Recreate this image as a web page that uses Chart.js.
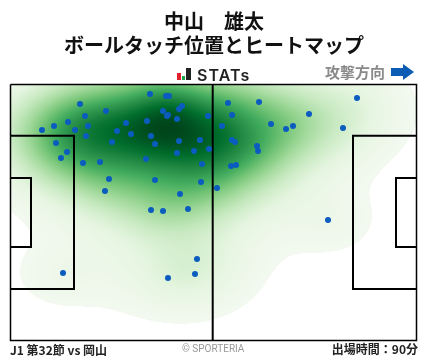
<!DOCTYPE html>
<html lang="ja">
<head>
<meta charset="utf-8">
<title>ボールタッチ位置とヒートマップ</title>
<script src="https://cdn.jsdelivr.net/npm/chart.js@4"></script>
<style>
html, body { margin: 0; padding: 0; background: #fff; }
#wrap { position: relative; width: 428px; height: 359px; overflow: hidden; font-family: "Noto Sans CJK JP", sans-serif; }
#wrap canvas { position: absolute; left: 0; top: 0; }
.txt { position: absolute; white-space: nowrap; line-height: 1; }
#title1, #title2 { left: 0; width: 428px; text-align: center; font-size: 20px; font-weight: 700; color: #111; }
#title1 { top: 11px; }
#title2 { top: 35px; }
#stats { left: 197px; top: 65px; font: 600 16px "Inter", sans-serif; color: #222; letter-spacing: 1.1px; }
#dir { left: 325px; top: 64px; font-size: 15px; font-weight: 700; color: #8a8a8a; }
#round { left: 10px; top: 344px; font-size: 12px; font-weight: 700; color: #222; }
#copy { left: 182px; top: 343px; font: 10px "Roboto", sans-serif; color: #999; }
#time { right: 10px; top: 343px; font-size: 12px; font-weight: 700; color: #222; }
.bar { position: absolute; }
</style>
</head>
<body>
<div id="wrap">
  <canvas id="heatChart" width="428" height="359"></canvas>
  <div class="txt" id="title1">中山　雄太</div>
  <div class="txt" id="title2">ボールタッチ位置とヒートマップ</div>
  <div class="bar" style="left:177px;top:73px;width:3.5px;height:6.5px;background:#e0202c"></div>
  <div class="bar" style="left:181.5px;top:75.5px;width:3.5px;height:4px;background:#1aa34a"></div>
  <div class="bar" style="left:186px;top:67.5px;width:4.5px;height:12px;background:#222"></div>
  <div class="txt" id="stats">STATs</div>
  <div class="txt" id="dir">攻撃方向</div>
  <svg style="position:absolute;left:391px;top:63px" width="24" height="18"><path d="M0 5h12V1l11 8-11 8v-4H0z" fill="#0b5cb5"/></svg>
  <div class="txt" id="round">J1 第32節 vs 岡山</div>
  <div class="txt" id="copy">© SPORTERIA</div>
  <div class="txt" id="time">出場時間：90分</div>
</div>
<script>
// ボールタッチ位置 (ピッチ左上からの距離)
var touchX = [140, 156, 159, 70, 172, 169, 96, 153, 158, 157, 75, 198, 167, 137, 58, 116, 44, 78, 32, 65, 107, 121, 76, 141, 190, 169, 102, 46, 145, 199, 184, 57, 167, 51, 136, 90, 73, 192, 99, 145, 191, 95, 170, 141, 153, 178,
    218, 249, 347, 222, 299, 212, 261, 276, 283, 333, 222, 225, 247, 248, 221, 226, 207, 318, 53, 187, 185, 158];
var touchY = [10, 12, 12, 20, 22, 25, 27, 27, 31, 32, 32, 32, 35, 37, 38, 39, 42, 42, 46, 46, 47, 50, 52, 52, 56, 57, 58, 59, 60, 65, 67, 68, 69, 74, 75, 78, 79, 80, 95, 96, 98, 107, 110, 126, 127, 125,
    19, 18, 14, 31, 30, 42, 40, 45, 42, 44, 56, 58, 62, 67, 82, 81, 104, 136, 189, 175, 190, 194];

// ピッチのライン
var pitchWidth = 407, pitchHeight = 257;
var frameX = [0.5, 406.5, 406.5, 0.5, 0.5], frameY = [0.5, 0.5, 256.5, 256.5, 0.5];
var halfwayX = [202.7, 202.7], halfwayY = [0, 257];
var leftBoxX = [0, 64, 64, 0], rightBoxX = [407, 343, 343, 407], boxY = [51.8, 51.8, 205, 205];
var leftGoalX = [0, 21, 21, 0], rightGoalX = [407, 386, 386, 407], goalY = [94, 94, 163, 163];

// ヒートマップの色 (濃度の低い順)
var heatColors = [[243,249,240],[229,245,224],[199,233,192],[161,217,155],[116,196,118],[65,171,93],[35,139,69],[0,109,44],[0,68,27]];
var bandWide = [46, 31], bandNarrow = [22, 18], narrowShare = 0.3, cutoff = 0.028, heatGamma = 0.88;

function toPoints(xs, ys) {
    return xs.map(function (x, i) { return { x: x, y: ys[i] }; });
}

function lineDataset(xs, ys, width) {
    return { type: 'line', data: toPoints(xs, ys), borderColor: '#000', borderWidth: width, pointRadius: 0, fill: false, tension: 0, order: 1, clip: false };
}

function addKernels(grid, w, h, area, sx, sy, band, weight) {
    for (var k = 0; k < touchX.length; k++) {
        var gx = [], gy = [], i, j;
        for (i = 0; i < w; i++) { var dx = (sx.getValueForPixel(area.left + i + 0.5) - touchX[k]) / band[0]; gx.push(Math.exp(-0.5 * dx * dx)); }
        for (j = 0; j < h; j++) { var dy = (sy.getValueForPixel(area.top + j + 0.5) - touchY[k]) / band[1]; gy.push(Math.exp(-0.5 * dy * dy)); }
        for (j = 0; j < h; j++) for (i = 0; i < w; i++) grid[j * w + i] += weight * gx[i] * gy[j];
    }
}

// タッチ位置からカーネル密度を計算して描く
var heatPlugin = {
    id: 'heat',
    beforeDatasetsDraw: function (chart) {
        var area = chart.chartArea, sx = chart.scales.x, sy = chart.scales.y;
        var w = Math.round(area.right - area.left), h = Math.round(area.bottom - area.top);
        var grid = new Float64Array(w * h), max = 0, i;
        addKernels(grid, w, h, area, sx, sy, bandWide, 1 - narrowShare);
        addKernels(grid, w, h, area, sx, sy, bandNarrow, narrowShare);
        for (i = 0; i < grid.length; i++) if (grid[i] > max) max = grid[i];
        var off = document.createElement('canvas');
        off.width = w; off.height = h;
        var octx = off.getContext('2d'), img = octx.createImageData(w, h);
        for (i = 0; i < grid.length; i++) {
            var v = grid[i] / max, c = [255, 255, 255];
            if (v >= cutoff) {
                var t = Math.pow((v - cutoff) / (1 - cutoff), heatGamma) * (heatColors.length - 1);
                var a = Math.min(Math.floor(t), heatColors.length - 2), f = t - a;
                c = heatColors[a].map(function (n, m) { return n + (heatColors[a + 1][m] - n) * f; });
            }
            img.data[i * 4] = c[0]; img.data[i * 4 + 1] = c[1]; img.data[i * 4 + 2] = c[2]; img.data[i * 4 + 3] = 255;
        }
        octx.putImageData(img, 0, 0);
        chart.ctx.drawImage(off, area.left, area.top);
    }
};

new Chart(document.getElementById('heatChart').getContext('2d'), {
    type: 'scatter',
    data: {
        datasets: [
            { data: toPoints(touchX, touchY), backgroundColor: '#0a5cbf', borderWidth: 0, pointRadius: 3, order: 0, clip: false },
            lineDataset(frameX, frameY, 1.5),
            lineDataset(halfwayX, halfwayY, 2),
            lineDataset(leftBoxX, boxY, 2),
            lineDataset(rightBoxX, boxY, 2),
            lineDataset(leftGoalX, goalY, 2),
            lineDataset(rightGoalX, goalY, 2)
        ]
    },
    options: {
        responsive: false,
        animation: false,
        layout: { padding: { left: 10, right: 11, top: 84, bottom: 18 } },
        plugins: { legend: { display: false }, title: { display: false }, tooltip: { enabled: false } },
        scales: {
            x: { type: 'linear', display: false, min: 0, max: pitchWidth },
            y: { type: 'linear', display: false, min: 0, max: pitchHeight, reverse: true }
        }
    },
    plugins: [heatPlugin]
});
</script>
</body>
</html>
